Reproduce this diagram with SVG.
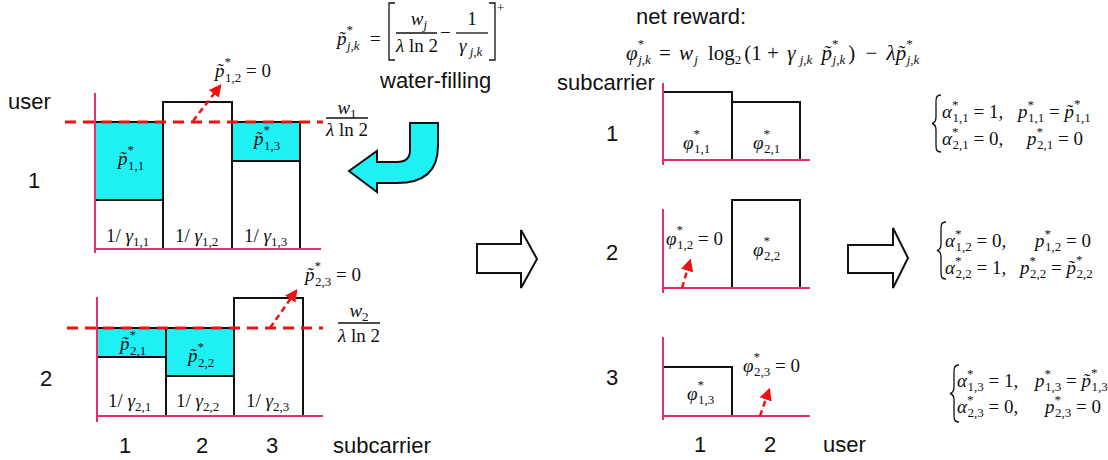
<svg xmlns="http://www.w3.org/2000/svg" width="1108" height="460" viewBox="0 0 1108 460">
<defs>
<marker id="ah" viewBox="0 0 10 10" refX="8" refY="5" markerWidth="5" markerHeight="5" orient="auto" markerUnits="strokeWidth">
<path d="M0,0 L10,5 L0,10 Z" fill="#ee1111"/>
</marker>
<style>
.sans{font-family:"Liberation Sans",Arial,sans-serif;font-size:22px;fill:#111}
.m{font-family:"Liberation Serif","Times New Roman",serif;font-size:19px;fill:#111}
.m21{font-family:"Liberation Serif","Times New Roman",serif;font-size:21px;fill:#111}
.it{font-style:italic}
.sb{font-size:13px}
.sp{font-size:13px;font-style:normal}
.ax{stroke:#e6306e;stroke-width:2;fill:none}
.bar{stroke:#111;stroke-width:2;fill:#fff}
.wat{stroke:#111;stroke-width:2;fill:#1ff0f4}
.lvl{stroke:#ee1111;stroke-width:3;stroke-dasharray:11 7;fill:none}
.up{stroke:#ee1111;stroke-width:2.5;stroke-dasharray:6 4;fill:none;marker-end:url(#ah)}
.ln{stroke:#111;stroke-width:1.3;fill:none}
.big{stroke:#111;stroke-width:2;fill:#fff}
.cyanarrow{stroke:#111;stroke-width:2;fill:#1ff0f4}
</style>
</defs>

<!-- top formula -->
<g id="formula-wf">
<text x="337" y="45" class="m"><tspan class="it">p̃</tspan><tspan class="sp" dy="-11">*</tspan><tspan class="sb it" dx="-6" dy="16">j,k</tspan></text>
<text x="370" y="45" class="m">=</text>
<path class="ln" d="M395,3 H389 V60 H395"/>
<text x="419" y="25" class="m" text-anchor="middle"><tspan class="it">w</tspan><tspan class="sb it" dy="4">j</tspan></text>
<line class="ln" x1="396" y1="33" x2="437" y2="33"/>
<text x="417" y="52" class="m" text-anchor="middle"><tspan class="it">λ</tspan> ln 2</text>
<text x="440" y="39" class="m">−</text>
<text x="472" y="25" class="m" text-anchor="middle">1</text>
<line class="ln" x1="456" y1="33" x2="488" y2="33"/>
<text x="459" y="52" class="m"><tspan class="it">γ</tspan><tspan class="sb it" dy="4"> j,k</tspan></text>
<path class="ln" d="M489,3 H495 V60 H489"/>
<text x="497" y="12" class="m" style="font-size:13px">+</text>
<text x="380" y="88" class="sans">water-filling</text>
</g>

<g id="cyan-arrow">
<path class="cyanarrow" d="M410,123 H438 V146 Q438,183 397,183 H377 V192 L349,171 L377,151 V162 H397 Q410,162 410,150 Z"/>
</g>

<!-- left chart user 1 -->
<g id="chart-user1">
<rect class="bar" x="95" y="122" width="68" height="127"/>
<rect class="wat" x="95" y="122" width="68" height="78"/>
<rect class="bar" x="163" y="102" width="69" height="147"/>
<rect class="bar" x="232" y="122" width="68" height="127"/>
<rect class="wat" x="232" y="122" width="68" height="39"/>
<line class="ax" x1="95" y1="93" x2="95" y2="253"/>
<line class="ax" x1="95" y1="249" x2="321" y2="249"/>
<line class="lvl" x1="65" y1="122" x2="323" y2="122"/>
<text x="118" y="165" class="m"><tspan class="it">p̃</tspan><tspan class="sp" dy="-11">*</tspan><tspan class="sb" dx="-6" dy="16">1,1</tspan></text>
<text x="254" y="145" class="m"><tspan class="it">p̃</tspan><tspan class="sp" dy="-11">*</tspan><tspan class="sb" dx="-6" dy="16">1,3</tspan></text>
<text x="106" y="242" class="m">1/ <tspan class="it">γ</tspan><tspan class="sb" dy="4">1,1</tspan></text>
<text x="175" y="242" class="m">1/ <tspan class="it">γ</tspan><tspan class="sb" dy="4">1,2</tspan></text>
<text x="244" y="242" class="m">1/ <tspan class="it">γ</tspan><tspan class="sb" dy="4">1,3</tspan></text>
<text x="215" y="77" class="m"><tspan class="it">p̃</tspan><tspan class="sp" dy="-11">*</tspan><tspan class="sb" dx="-6" dy="16">1,2</tspan><tspan dy="-5"> = 0</tspan></text>
<text x="347" y="114" class="m" text-anchor="middle"><tspan class="it">w</tspan><tspan class="sb" dy="4">1</tspan></text>
<line class="ln" x1="326" y1="118" x2="368" y2="118"/>
<text x="347" y="136" class="m" text-anchor="middle"><tspan class="it">λ</tspan> ln 2</text>
</g>

<!-- left chart user 2 -->
<g id="chart-user2">
<rect class="bar" x="97" y="328" width="69" height="88"/>
<rect class="wat" x="97" y="328" width="69" height="29"/>
<rect class="bar" x="166" y="328" width="68" height="88"/>
<rect class="wat" x="166" y="328" width="68" height="48"/>
<rect class="bar" x="234" y="298" width="69" height="118"/>
<line class="ax" x1="97" y1="297" x2="97" y2="422"/>
<line class="ax" x1="97" y1="416" x2="323" y2="416"/>
<line class="lvl" x1="67" y1="328" x2="323" y2="328"/>
<text x="120" y="350" class="m"><tspan class="it">p̃</tspan><tspan class="sp" dy="-11">*</tspan><tspan class="sb" dx="-6" dy="16">2,1</tspan></text>
<text x="188" y="362" class="m"><tspan class="it">p̃</tspan><tspan class="sp" dy="-11">*</tspan><tspan class="sb" dx="-6" dy="16">2,2</tspan></text>
<text x="108" y="407" class="m">1/ <tspan class="it">γ</tspan><tspan class="sb" dy="4">2,1</tspan></text>
<text x="176" y="407" class="m">1/ <tspan class="it">γ</tspan><tspan class="sb" dy="4">2,2</tspan></text>
<text x="246" y="407" class="m">1/ <tspan class="it">γ</tspan><tspan class="sb" dy="4">2,3</tspan></text>
<text x="305" y="281" class="m"><tspan class="it">p̃</tspan><tspan class="sp" dy="-11">*</tspan><tspan class="sb" dx="-6" dy="16">2,3</tspan><tspan dy="-5"> = 0</tspan></text>
<text x="359" y="317" class="m" text-anchor="middle"><tspan class="it">w</tspan><tspan class="sb" dy="4">2</tspan></text>
<line class="ln" x1="338" y1="323" x2="380" y2="323"/>
<text x="359" y="342" class="m" text-anchor="middle"><tspan class="it">λ</tspan> ln 2</text>
</g>

<g id="left-axis-labels">
<text x="8" y="109" class="sans">user</text>
<text x="34" y="188" class="sans" text-anchor="middle">1</text>
<text x="46" y="386" class="sans" text-anchor="middle">2</text>
<text x="125" y="453" class="sans" text-anchor="middle">1</text>
<text x="202" y="453" class="sans" text-anchor="middle">2</text>
<text x="272" y="453" class="sans" text-anchor="middle">3</text>
<text x="333" y="453" class="sans">subcarrier</text>
</g>

<g id="mid-arrow">
<path class="big" d="M477,244 H521 V230 L537,259 L521,288 V273 H477 Z"/>
</g>

<!-- right side -->
<g id="net-reward">
<text x="636" y="24" class="sans">net reward:</text>
<text x="626" y="60" class="m21"><tspan class="it">φ</tspan><tspan class="sp" dy="-12">*</tspan><tspan class="sb it" dx="-6" dy="16">j,k</tspan><tspan dy="-4" dx="3"> = </tspan><tspan class="it" dx="3">w</tspan><tspan class="sb it" dy="4" dx="1">j</tspan><tspan dy="-4" dx="5"> log</tspan><tspan class="sb" dy="4">2</tspan><tspan dy="-4" dx="3">(1 + </tspan><tspan class="it" dx="3">γ</tspan><tspan class="sb it" dy="4" dx="1"> j,k</tspan><tspan class="it" dy="-4" dx="4"> p̃</tspan><tspan class="sp" dy="-12">*</tspan><tspan class="sb it" dx="-6" dy="16">j,k</tspan><tspan dy="-4" dx="3">)</tspan><tspan dx="5"> − </tspan><tspan class="it" dx="4">λp̃</tspan><tspan class="sp" dy="-12">*</tspan><tspan class="sb it" dx="-6" dy="16">j,k</tspan></text>
</g>

<g id="right-axis-labels">
<text x="557" y="90" class="sans">subcarrier</text>
<text x="612" y="141" class="sans" text-anchor="middle">1</text>
<text x="612" y="260" class="sans" text-anchor="middle">2</text>
<text x="612" y="385" class="sans" text-anchor="middle">3</text>
<text x="700" y="452" class="sans" text-anchor="middle">1</text>
<text x="770" y="452" class="sans" text-anchor="middle">2</text>
<text x="823" y="452" class="sans">user</text>
</g>

<g id="chart-sub1">
<rect class="bar" x="663" y="92" width="69" height="68"/>
<rect class="bar" x="732" y="102" width="68" height="58"/>
<line class="ax" x1="663" y1="83" x2="663" y2="165"/>
<line class="ax" x1="663" y1="160" x2="810" y2="160"/>
<text x="683" y="149" class="m"><tspan class="it">φ</tspan><tspan class="sp" dy="-11">*</tspan><tspan class="sb" dx="-6" dy="15">1,1</tspan></text>
<text x="753" y="149" class="m"><tspan class="it">φ</tspan><tspan class="sp" dy="-11">*</tspan><tspan class="sb" dx="-6" dy="15">2,1</tspan></text>
</g>

<g id="chart-sub2">
<rect class="bar" x="732" y="200" width="68" height="88"/>
<line class="ax" x1="663" y1="209" x2="663" y2="293"/>
<line class="ax" x1="663" y1="288" x2="810" y2="288"/>
<text x="666" y="245" class="m"><tspan class="it">φ</tspan><tspan class="sp" dy="-11">*</tspan><tspan class="sb" dx="-6" dy="15">1,2</tspan><tspan dy="-4"> = 0</tspan></text>
<text x="753" y="256" class="m"><tspan class="it">φ</tspan><tspan class="sp" dy="-11">*</tspan><tspan class="sb" dx="-6" dy="15">2,2</tspan></text>
</g>

<g id="chart-sub3">
<rect class="bar" x="663" y="367" width="69" height="49"/>
<line class="ax" x1="663" y1="337" x2="663" y2="420"/>
<line class="ax" x1="663" y1="416" x2="810" y2="416"/>
<text x="687" y="400" class="m"><tspan class="it">φ</tspan><tspan class="sp" dy="-11">*</tspan><tspan class="sb" dx="-6" dy="15">1,3</tspan></text>
<text x="743" y="372" class="m"><tspan class="it">φ</tspan><tspan class="sp" dy="-11">*</tspan><tspan class="sb" dx="-6" dy="15">2,3</tspan><tspan dy="-4"> = 0</tspan></text>
</g>

<g id="right-arrow">
<path class="big" d="M848,245 H893 V228 L908,258 L893,288 V273 H848 Z"/>
</g>

<g id="eq-sub1">
<path class="ln" transform="translate(932,95)" d="M9,0 C4,0 4,3 4,8 V22 C4,26 2,28 0,28.5 C2,29 4,31 4,35 V49 C4,54 4,57 9,57"/>
<text x="942" y="118" class="m"><tspan class="it">α</tspan><tspan class="sp" dy="-9">*</tspan><tspan class="sb" dx="-6" dy="13">1,1</tspan><tspan dy="-4"> = 1,</tspan></text>
<text x="1018" y="118" class="m"><tspan class="it">p</tspan><tspan class="sp" dy="-9">*</tspan><tspan class="sb" dx="-6" dy="13">1,1</tspan><tspan dy="-4"> = </tspan><tspan class="it">p̃</tspan><tspan class="sp" dy="-10">*</tspan><tspan class="sb" dx="-6" dy="14">1,1</tspan></text>
<text x="942" y="145" class="m"><tspan class="it">α</tspan><tspan class="sp" dy="-9">*</tspan><tspan class="sb" dx="-6" dy="13">2,1</tspan><tspan dy="-4"> = 0,</tspan></text>
<text x="1027" y="145" class="m"><tspan class="it">p</tspan><tspan class="sp" dy="-9">*</tspan><tspan class="sb" dx="-6" dy="13">2,1</tspan><tspan dy="-4"> = 0</tspan></text>
</g>

<g id="eq-sub2">
<path class="ln" transform="translate(937,222)" d="M9,0 C4,0 4,3 4,8 V22 C4,26 2,28 0,28.5 C2,29 4,31 4,35 V49 C4,54 4,57 9,57"/>
<text x="945" y="247" class="m"><tspan class="it">α</tspan><tspan class="sp" dy="-9">*</tspan><tspan class="sb" dx="-6" dy="13">1,2</tspan><tspan dy="-4"> = 0,</tspan></text>
<text x="1035" y="247" class="m"><tspan class="it">p</tspan><tspan class="sp" dy="-9">*</tspan><tspan class="sb" dx="-6" dy="13">1,2</tspan><tspan dy="-4"> = 0</tspan></text>
<text x="945" y="274" class="m"><tspan class="it">α</tspan><tspan class="sp" dy="-9">*</tspan><tspan class="sb" dx="-6" dy="13">2,2</tspan><tspan dy="-4"> = 1,</tspan></text>
<text x="1020" y="274" class="m"><tspan class="it">p</tspan><tspan class="sp" dy="-9">*</tspan><tspan class="sb" dx="-6" dy="13">2,2</tspan><tspan dy="-4"> = </tspan><tspan class="it">p̃</tspan><tspan class="sp" dy="-10">*</tspan><tspan class="sb" dx="-6" dy="14">2,2</tspan></text>
</g>

<g id="eq-sub3">
<path class="ln" transform="translate(950,365)" d="M9,0 C4,0 4,3 4,8 V22 C4,26 2,28 0,28.5 C2,29 4,31 4,35 V49 C4,54 4,57 9,57"/>
<text x="957" y="387" class="m"><tspan class="it">α</tspan><tspan class="sp" dy="-9">*</tspan><tspan class="sb" dx="-6" dy="13">1,3</tspan><tspan dy="-4"> = 1,</tspan></text>
<text x="1035" y="387" class="m"><tspan class="it">p</tspan><tspan class="sp" dy="-9">*</tspan><tspan class="sb" dx="-6" dy="13">1,3</tspan><tspan dy="-4"> = </tspan><tspan class="it">p̃</tspan><tspan class="sp" dy="-10">*</tspan><tspan class="sb" dx="-6" dy="14">1,3</tspan></text>
<text x="957" y="413" class="m"><tspan class="it">α</tspan><tspan class="sp" dy="-9">*</tspan><tspan class="sb" dx="-6" dy="13">2,3</tspan><tspan dy="-4"> = 0,</tspan></text>
<text x="1045" y="413" class="m"><tspan class="it">p</tspan><tspan class="sp" dy="-9">*</tspan><tspan class="sb" dx="-6" dy="13">2,3</tspan><tspan dy="-4"> = 0</tspan></text>
</g>

<g id="connectors">
<line class="up" x1="193" y1="121" x2="220" y2="86"/>
<line class="up" x1="270" y1="328" x2="296" y2="291"/>
<line class="up" x1="682" y1="288" x2="690" y2="261"/>
<line class="up" x1="760" y1="416" x2="769" y2="390"/>
</g>
</svg>
